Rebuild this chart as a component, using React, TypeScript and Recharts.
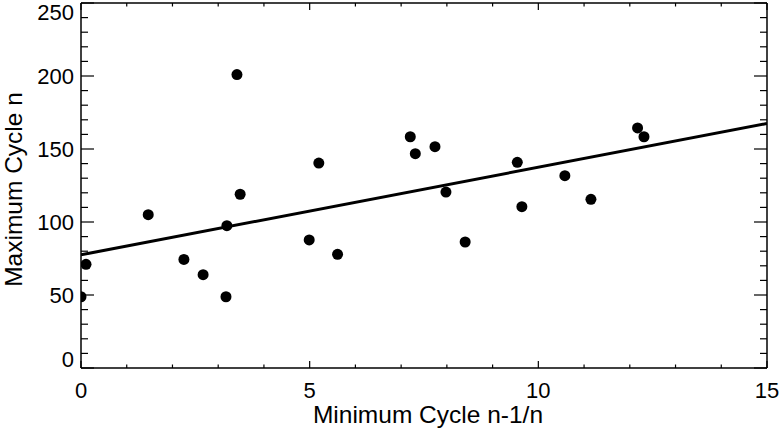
import { ScatterChart, Scatter, XAxis, YAxis, Label } from 'recharts';

// Cycle data: minimum of cycle n-1/n vs. maximum of cycle n
const minCycle = [0, 0.11, 1.47, 2.25, 2.67, 3.17, 3.19, 3.41, 3.48, 4.99, 5.2, 5.61, 7.2, 7.31, 7.74, 7.98, 8.4, 9.54, 9.64, 10.58, 11.15, 12.17, 12.31];
const maxCycle = [48.8, 71, 105, 74.4, 63.9, 48.8, 97.5, 201, 119, 87.7, 140.4, 77.9, 158.4, 146.8, 151.6, 120.5, 86.3, 140.9, 110.5, 131.7, 115.5, 164.4, 158.4];

// linear fit end points
const fitX = [0, 15];
const fitY = [77.5, 167.5];

const xTicks = [0, 1, 2, 3, 4, 5, 6, 7, 8, 9, 10, 11, 12, 13, 14, 15];
const yTicks = [0, 10, 20, 30, 40, 50, 60, 70, 80, 90, 100, 110, 120, 130, 140, 150, 160, 170, 180, 190, 200, 210, 220, 230, 240, 250];
const xDomain = [0, 15];
const yDomain = [0, 250];

const points = minCycle.map((x, i) => ({ x, y: maxCycle[i] }));
const fit = fitX.map((x, i) => ({ x, y: fitY[i] }));

const FONT = '"Liberation Sans", Arial, Helvetica, sans-serif';

function BottomTick({ x, y, payload }: any) {
  const major = payload.value % 5 === 0;
  return (
    <g>
      <line x1={x} x2={x} y1={y} y2={y - (major ? 7 : 3.5)} stroke="#000" strokeWidth={1.2} />
      {major && (
        <text x={x} y={y + 30} textAnchor="middle" fontSize={22} fontFamily={FONT} fill="#000">
          {payload.value}
        </text>
      )}
    </g>
  );
}

function TopTick({ x, y, payload }: any) {
  const major = payload.value % 5 === 0;
  return <line x1={x} x2={x} y1={y} y2={y + (major ? 7 : 3.5)} stroke="#000" strokeWidth={1.2} />;
}

function LeftTick({ x, y, payload }: any) {
  const major = payload.value % 50 === 0;
  // labels at the ends of the axis are nudged inside the box
  let dy = 7.5;
  if (payload.value === yDomain[0]) dy = -1;
  if (payload.value === yDomain[1]) dy = 16.5;
  return (
    <g>
      <line x1={x} x2={x + (major ? 13 : 7)} y1={y} y2={y} stroke="#000" strokeWidth={1.2} />
      {major && (
        <text x={x - 7} y={y + dy} textAnchor="end" fontSize={22} fontFamily={FONT} fill="#000">
          {payload.value}
        </text>
      )}
    </g>
  );
}

function RightTick({ x, y, payload }: any) {
  const major = payload.value % 50 === 0;
  return <line x1={x} x2={x - (major ? 13 : 7)} y1={y} y2={y} stroke="#000" strokeWidth={1.2} />;
}

export default function App() {
  return (
    <div style={{ position: 'absolute', left: 0, top: 0, background: '#fff' }}>
      <ScatterChart width={780} height={428} margin={{ top: 2, right: 12, bottom: 0, left: 0 }}>
        <XAxis
          type="number"
          dataKey="x"
          domain={xDomain}
          ticks={xTicks}
          interval={0}
          allowDataOverflow
          height={60}
          tickSize={0}
          tickMargin={0}
          tickLine={false}
          axisLine={{ stroke: '#000', strokeWidth: 1.5 }}
          tick={(p: any) => <BottomTick {...p} />}
        >
          <Label
            content={({ viewBox }: any) => (
              <text
                x={viewBox.x + viewBox.width / 2 + 4}
                y={viewBox.y + 55}
                textAnchor="middle"
                fontSize={24.5}
                fontFamily={FONT}
                fill="#000"
              >
                Minimum Cycle n-1/n
              </text>
            )}
          />
        </XAxis>
        <XAxis
          xAxisId="top"
          orientation="top"
          type="number"
          dataKey="x"
          domain={xDomain}
          ticks={xTicks}
          interval={0}
          allowDataOverflow
          height={1}
          tickSize={0}
          tickMargin={0}
          tickLine={false}
          axisLine={{ stroke: '#000', strokeWidth: 1.5 }}
          tick={(p: any) => <TopTick {...p} />}
        />
        <YAxis
          type="number"
          dataKey="y"
          domain={yDomain}
          ticks={yTicks}
          interval={0}
          allowDataOverflow
          width={81}
          tickSize={0}
          tickMargin={0}
          tickLine={false}
          axisLine={{ stroke: '#000', strokeWidth: 1.5 }}
          tick={(p: any) => <LeftTick {...p} />}
        >
          <Label
            content={({ viewBox }: any) => {
              const cx = viewBox.x + 13;
              const cy = viewBox.y + viewBox.height / 2 + 4;
              return (
                <text
                  x={cx}
                  y={cy}
                  transform={`rotate(-90 ${cx} ${cy})`}
                  textAnchor="middle"
                  dominantBaseline="central"
                  fontSize={24.5}
                  fontFamily={FONT}
                  fill="#000"
                >
                  Maximum Cycle n
                </text>
              );
            }}
          />
        </YAxis>
        <YAxis
          yAxisId="right"
          orientation="right"
          type="number"
          dataKey="y"
          domain={yDomain}
          ticks={yTicks}
          interval={0}
          allowDataOverflow
          width={1}
          tickSize={0}
          tickMargin={0}
          tickLine={false}
          axisLine={{ stroke: '#000', strokeWidth: 1.5 }}
          tick={(p: any) => <RightTick {...p} />}
        />
        <Scatter
          data={points}
          fill="#000"
          isAnimationActive={false}
          shape={(p: any) => <circle cx={p.cx} cy={p.cy} r={5.5} fill="#000" />}
        />
        <Scatter
          data={fit}
          line={{ stroke: '#000', strokeWidth: 3 }}
          lineType="joint"
          isAnimationActive={false}
          shape={() => <g />}
        />
      </ScatterChart>
    </div>
  );
}
